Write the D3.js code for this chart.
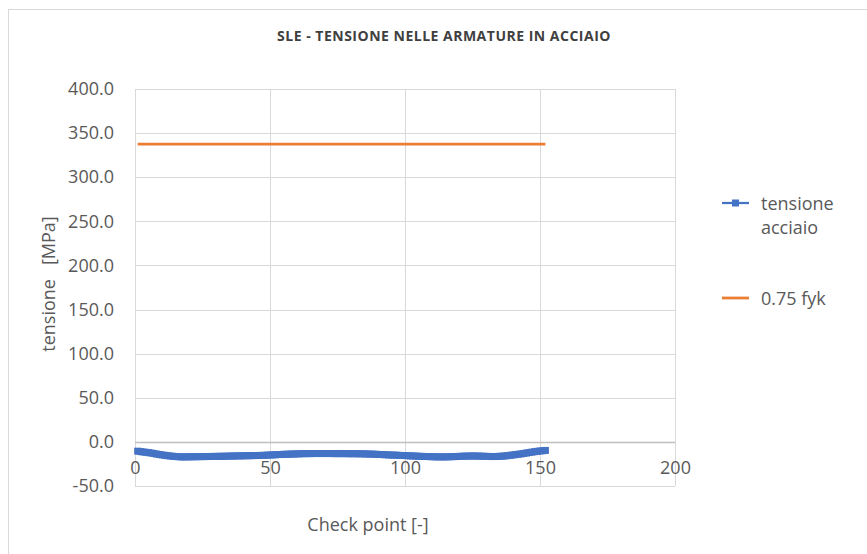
<!DOCTYPE html>
<html>
<head>
<meta charset="utf-8">
<script src="https://cdn.jsdelivr.net/npm/d3@7"></script>
<style>
  html, body { margin: 0; padding: 0; background: #fff; }
  svg text { font-family: "Open Sans", "Noto Sans", sans-serif; fill: #595959; }
</style>
</head>
<body>
<svg id="chart" width="867" height="554"></svg>
<script>
// Check points along the element
const checkPoints = d3.range(1, 153);

// Steel stress at each check point [MPa]
const tensioneAcciaio = [
  -10.5,-11.0,-11.4,-11.8,-12.2,-12.6,-13.2,-13.8,-14.3,-14.8,
  -15.2,-15.6,-16.0,-16.3,-16.6,-16.8,-17.0,-17.0,-17.0,-16.9,
  -16.9,-16.8,-16.8,-16.7,-16.7,-16.6,-16.6,-16.5,-16.5,-16.4,
  -16.4,-16.3,-16.3,-16.2,-16.1,-16.0,-16.0,-15.9,-15.8,-15.8,
  -15.7,-15.6,-15.6,-15.5,-15.4,-15.4,-15.3,-15.2,-15.0,-14.9,
  -14.7,-14.6,-14.4,-14.3,-14.1,-14.0,-13.9,-13.8,-13.7,-13.6,
  -13.5,-13.4,-13.3,-13.3,-13.3,-13.2,-13.2,-13.2,-13.2,-13.2,
  -13.2,-13.2,-13.2,-13.3,-13.3,-13.3,-13.3,-13.3,-13.4,-13.4,
  -13.4,-13.4,-13.5,-13.5,-13.6,-13.7,-13.8,-13.9,-14.0,-14.2,
  -14.3,-14.5,-14.6,-14.8,-14.9,-15.0,-15.1,-15.3,-15.4,-15.5,
  -15.7,-15.8,-16.0,-16.1,-16.3,-16.4,-16.5,-16.6,-16.7,-16.8,
  -16.9,-17.0,-17.0,-17.0,-17.0,-16.9,-16.8,-16.7,-16.6,-16.4,
  -16.3,-16.2,-16.1,-16.0,-16.0,-16.0,-16.1,-16.2,-16.3,-16.4,
  -16.5,-16.6,-16.6,-16.5,-16.4,-16.2,-15.9,-15.6,-15.2,-14.8,
  -14.4,-14.0,-13.6,-13.1,-12.6,-12.1,-11.6,-11.1,-10.7,-10.3,
  -10.0,-9.7
];

// Allowable limit 0.75 fyk (fyk = 450 MPa)
const limiteX = [1, 152];
const limiteY = [337.5, 337.5];

const xTicks = [0, 50, 100, 150, 200];
const yTicks = [-50, 0, 50, 100, 150, 200, 250, 300, 350, 400];

const titolo = "SLE - TENSIONE NELLE ARMATURE IN ACCIAIO";
const xTitolo = "Check point [-]";
const yTitolo = "tensione   [MPa]";
const legenda = [
  { righe: ["tensione", "acciaio"], colore: "#4472C4", marker: true },
  { righe: ["0.75 fyk"], colore: "#ED7D31", marker: false }
];

const svg = d3.select("#chart");
const W = 867, H = 554;
const fs = "18px";

// outer chart frame
svg.append("rect")
  .attr("x", 8.5).attr("y", 9.5)
  .attr("width", W + 10).attr("height", H + 10)
  .attr("fill", "#fff").attr("stroke", "#d9d9d9").attr("stroke-width", 1);

const plot = { left: 135, right: 675, top: 89, bottom: 486 };

const x = d3.scaleLinear().domain([0, 200]).range([plot.left, plot.right]);
const y = d3.scaleLinear().domain([-50, 400]).range([plot.bottom, plot.top]);

// title
svg.append("text")
  .attr("x", 444).attr("y", 35)
  .attr("text-anchor", "middle").attr("dominant-baseline", "central")
  .style("font-weight", "bold").style("font-size", "14px")
  .style("letter-spacing", "0.5px")
  .style("fill", "#404040")
  .text(titolo);

// gridlines
const grid = svg.append("g");
grid.selectAll("line.h").data(yTicks).join("line")
  .attr("x1", plot.left).attr("x2", plot.right)
  .attr("y1", d => Math.round(y(d)) + 0.5).attr("y2", d => Math.round(y(d)) + 0.5)
  .attr("stroke", "#d9d9d9");
grid.selectAll("line.v").data(xTicks).join("line")
  .attr("y1", plot.top).attr("y2", plot.bottom)
  .attr("x1", d => Math.round(x(d)) + 0.5).attr("x2", d => Math.round(x(d)) + 0.5)
  .attr("stroke", "#d9d9d9");
// horizontal axis line at zero
svg.append("line")
  .attr("x1", plot.left).attr("x2", plot.right)
  .attr("y1", Math.round(y(0)) + 0.5).attr("y2", Math.round(y(0)) + 0.5)
  .attr("stroke", "#bfbfbf").attr("stroke-width", 1.5);

// y axis labels (plain hyphen for negatives)
const fmt1 = d3.format(".1f");
const yAxis = d3.axisLeft(y).tickValues(yTicks).tickSize(0).tickPadding(0)
  .tickFormat(d => fmt1(d).replace("\u2212", "-"));
const gy = svg.append("g").attr("transform", `translate(${plot.left - 21},0)`).call(yAxis);
gy.select(".domain").remove();
gy.selectAll("text").style("font-size", fs).style("fill", "#595959")
  .style("font-family", "'Open Sans', sans-serif");

// x axis labels, placed beneath the zero line
const xAxis = d3.axisBottom(x).tickValues(xTicks).tickSize(0).tickPadding(0)
  .tickFormat(d3.format("d"));
const gx = svg.append("g").attr("transform", `translate(0,${y(0) + 26})`).call(xAxis);
gx.select(".domain").remove();
gx.selectAll("text").attr("dy", "0.32em").style("font-size", fs).style("fill", "#595959")
  .style("font-family", "'Open Sans', sans-serif");

// axis titles
svg.append("text")
  .attr("x", 368).attr("y", 524)
  .attr("text-anchor", "middle").attr("dominant-baseline", "central")
  .style("font-size", fs)
  .text(xTitolo);
svg.append("text")
  .attr("transform", "translate(48,284) rotate(-90)")
  .attr("text-anchor", "middle").attr("dominant-baseline", "central")
  .style("font-size", fs).style("white-space", "pre")
  .text(yTitolo);

// limit line
const line = d3.line().x(d => x(d[0])).y(d => y(d[1]));
svg.append("path")
  .datum(limiteX.map((v, i) => [v, limiteY[i]]))
  .attr("d", line).attr("fill", "none")
  .attr("stroke", "#ED7D31").attr("stroke-width", 2.75);

// steel stress series with square markers
const serie = checkPoints.map((v, i) => [v, tensioneAcciaio[i]]);
svg.append("path")
  .datum(serie)
  .attr("d", line).attr("fill", "none")
  .attr("stroke", "#4472C4").attr("stroke-width", 2.5);
const ms = 7;
svg.append("g").selectAll("rect").data(serie).join("rect")
  .attr("x", d => x(d[0]) - ms / 2).attr("y", d => y(d[1]) - ms / 2)
  .attr("width", ms).attr("height", ms)
  .attr("fill", "#4472C4");

// legend
const legY = [203, 298];
legenda.forEach((it, i) => {
  const g = svg.append("g").attr("transform", `translate(722,${legY[i]})`);
  g.append("line").attr("x1", 0).attr("x2", 27).attr("y1", 0).attr("y2", 0)
    .attr("stroke", it.colore).attr("stroke-width", it.marker ? 2.25 : 2.75);
  if (it.marker) {
    g.append("rect").attr("x", 13.5 - 3.5).attr("y", -3.5).attr("width", 7).attr("height", 7)
      .attr("fill", it.colore);
  }
  it.righe.forEach((r, j) => {
    g.append("text").attr("x", 39).attr("y", j * 24)
      .attr("dominant-baseline", "central")
      .style("font-size", fs)
      .text(r);
  });
});
</script>
</body>
</html>
